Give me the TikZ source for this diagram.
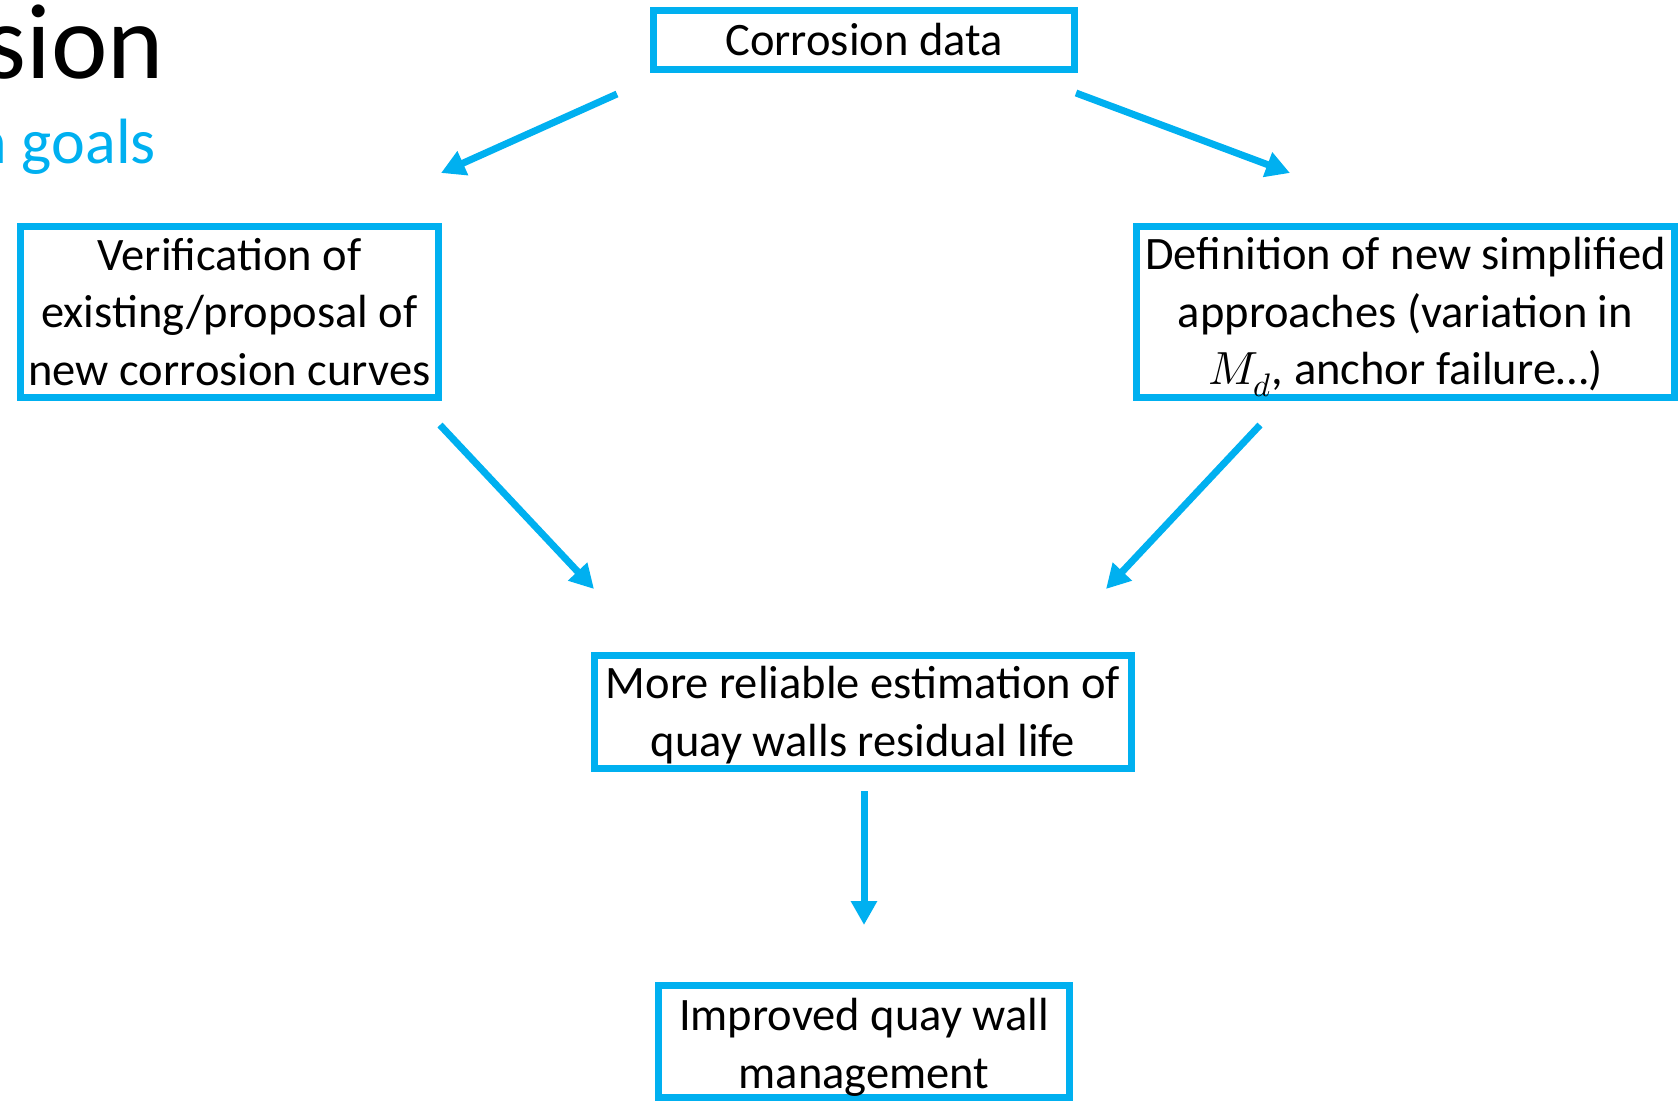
\documentclass[tikz,border=0pt]{standalone}
\usepackage{fontspec}
\usepackage{unicode-math}
\setmainfont{Carlito}
\setmathfont{Latin Modern Math}
\usetikzlibrary{arrows.meta}
\definecolor{pblue}{HTML}{00B0F0}
\tikzset{
  box/.style={draw=pblue, line width=7pt, inner sep=0pt},
  boxtext/.style={inner sep=0pt, align=center,
    font=\fontsize{46.5}{57.5}\selectfont, text=black},
  flow/.style={draw=pblue, line width=7pt, -{Triangle[length=24pt,width=25pt]}}
}
\begin{document}
\begin{tikzpicture}[x=1pt,y=-1pt]
\useasboundingbox (0,0) rectangle (1678,1101);
% title fragments
\node[anchor=base east, inner sep=0pt, font=\fontsize{107}{120}\selectfont] (title) at (164,78) {sion};
\node[anchor=base east, inner sep=0pt, font=\fontsize{64}{72}\selectfont, text=pblue] (sub) at (156,163) {n goals};
% boxes
\node[box, minimum width=421pt, minimum height=59pt] (cd) at (864,40) {};
\node[boxtext] (cdT) at (cd.center) {Corrosion data};
\node[box, minimum width=418pt, minimum height=171pt] (left) at (229.5,312) {};
\node[boxtext] (leftT) at (left.center)
  {Verification of\\existing/proposal of\\new corrosion curves};
\node[box, minimum width=538pt, minimum height=171pt] (right) at (1405.5,312) {};
\node[boxtext, yshift=-5pt] (rightT) at (right.center)
  {Definition of new simplified\\approaches (variation in\\$M_d$, anchor failure\ldots)};
\node[box, minimum width=537pt, minimum height=113pt] (mid) at (863,712) {};
\node[boxtext, yshift=-3pt] (midT) at (mid.center)
  {More reliable estimation of\\quay walls residual life};
\node[box, minimum width=411pt, minimum height=112pt] (bot) at (864,1041.5) {};
\node[boxtext, yshift=-6pt] (botT) at (bot.center)
  {Improved quay wall\\management};
% arrow end points
\coordinate (a1s) at (617,94);  \coordinate (a1e) at (441,173);
\coordinate (a2s) at (1076,93); \coordinate (a2e) at (1290,173);
\coordinate (a3s) at (440,425); \coordinate (a3e) at (594,589);
\coordinate (a4s) at (1260,425);\coordinate (a4e) at (1106,589);
\coordinate (a5s) at (864,791); \coordinate (a5e) at (864,925);
\draw[flow] (a1s) -- (a1e);
\draw[flow] (a2s) -- (a2e);
\draw[flow] (a3s) -- (a3e);
\draw[flow] (a4s) -- (a4e);
\draw[flow] (a5s) -- (a5e);
\end{tikzpicture}
\end{document}
